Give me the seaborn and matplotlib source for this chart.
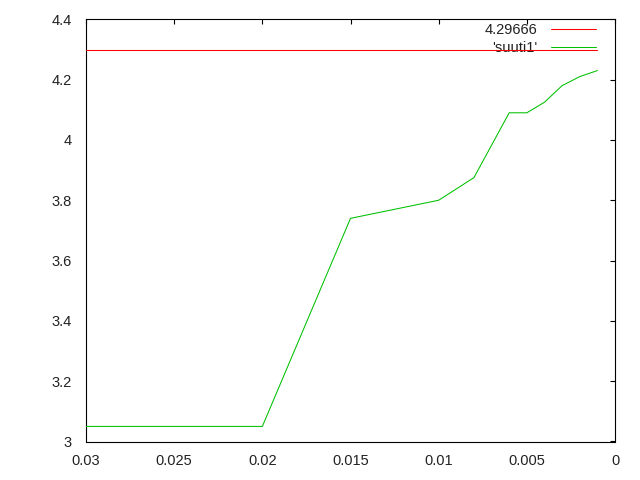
import seaborn as sns
import matplotlib.pyplot as plt

# data
step = [0.03, 0.02, 0.015, 0.01, 0.008, 0.006, 0.005, 0.004, 0.003, 0.002, 0.001]
suuti1 = [3.05, 3.05, 3.74, 3.80, 3.875, 4.09, 4.09, 4.125, 4.18, 4.21, 4.23]
ref_value = 4.29666
ref_label = "4.29666"
series_label = "'suuti1'"
x_ticks = [0.03, 0.025, 0.02, 0.015, 0.01, 0.005, 0]
x_tick_labels = ["0.03", "0.025", "0.02", "0.015", "0.01", "0.005", "0"]
y_ticks = [3, 3.2, 3.4, 3.6, 3.8, 4, 4.2, 4.4]
y_tick_labels = ["3", "3.2", "3.4", "3.6", "3.8", "4", "4.2", "4.4"]

sns.set_style("white")
plt.rcParams['font.family'] = ['Liberation Sans', 'DejaVu Sans']

fig = plt.figure(figsize=(6.4, 4.8), dpi=100)
ax = fig.add_axes([86 / 640, 38.5 / 480, 529 / 640, 422.2 / 480])

lw = 0.75
sns.lineplot(x=[step[0], step[-1]], y=[ref_value, ref_value], color='#ff0000',
             linewidth=lw, label=ref_label, ax=ax, zorder=4)
sns.lineplot(x=step, y=suuti1, color='#00c000', linewidth=lw,
             label=series_label, ax=ax, zorder=3, sort=False)

ax.set_xlim(0.03, 0)
ax.set_ylim(3, 4.4)
ax.set_xticks(x_ticks)
ax.set_xticklabels(x_tick_labels)
ax.set_yticks(y_ticks)
ax.set_yticklabels(y_tick_labels)
ax.set_xlabel("")
ax.set_ylabel("")

for s in ax.spines.values():
    s.set_visible(True)
    s.set_color('black')
    s.set_linewidth(0.8)

fs = 10.5
ax.tick_params(axis='both', direction='in', length=3.3, width=0.8, color='black',
               top=True, right=True, labelsize=fs, labelcolor='#222222')
ax.tick_params(axis='x', pad=9)
ax.tick_params(axis='y', pad=10.5)

leg = ax.legend(loc='upper right', bbox_to_anchor=(596 / 640, 1 - 23 / 480),
                bbox_transform=fig.transFigure, frameon=False, markerfirst=False,
                fontsize=fs, handlelength=3.1, handletextpad=0.95,
                labelspacing=0.3, borderpad=0, borderaxespad=0)
leg.set_zorder(2)
for t in leg.get_texts():
    t.set_color('#222222')

fig.savefig("out.png", dpi=100)
